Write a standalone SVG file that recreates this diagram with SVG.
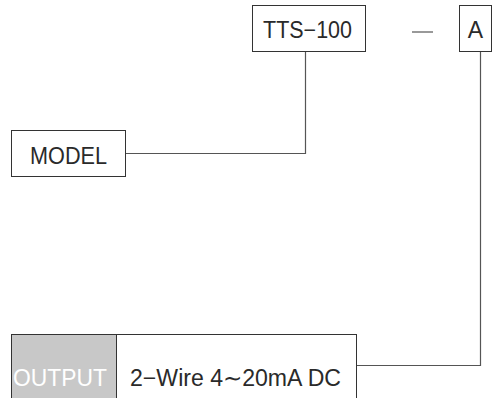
<svg xmlns="http://www.w3.org/2000/svg" width="494" height="398" viewBox="0 0 494 398">
<style>
.box{fill:#fff;stroke:#333;stroke-width:1}
.ln{fill:none;stroke:#555;stroke-width:1.2}
text{font-family:"Liberation Sans","Noto Sans CJK KR",sans-serif;font-size:23px;fill:#2a2a2a}
</style>
<rect width="494" height="398" fill="#fff"/>
<g id="connectors">
<polyline class="ln" points="125.5,153.5 305.5,153.5 305.5,52"/>
<polyline class="ln" points="356,365.5 480.5,365.5 480.5,52"/>
<line class="ln" x1="412" y1="32" x2="433" y2="32"/>
</g>
<g id="tts">
<rect class="box" x="252.5" y="5.5" width="113" height="46"/>
<text x="263" y="37.5" textLength="89" lengthAdjust="spacingAndGlyphs">TTS−100</text>
</g>
<g id="a">
<rect class="box" x="459.5" y="5.5" width="32" height="46"/>
<text x="475.5" y="37.5" text-anchor="middle">A</text>
</g>
<g id="model">
<rect class="box" x="11.5" y="130.5" width="114" height="46"/>
<text x="30" y="163.5" textLength="77" lengthAdjust="spacingAndGlyphs">MODEL</text>
</g>
<g id="output">
<rect class="box" x="11.5" y="334.5" width="345" height="70"/>
<rect x="12" y="335" width="104" height="70" fill="#c8c8c8" stroke="none"/>
<line x1="116.5" y1="334.5" x2="116.5" y2="398" stroke="#333"/>
<text x="13" y="385.5" textLength="94" lengthAdjust="spacingAndGlyphs" style="fill:#fff">OUTPUT</text>
<text x="130" y="385.5" textLength="211" lengthAdjust="spacingAndGlyphs">2−Wire 4∼20mA DC</text>
</g>
</svg>
